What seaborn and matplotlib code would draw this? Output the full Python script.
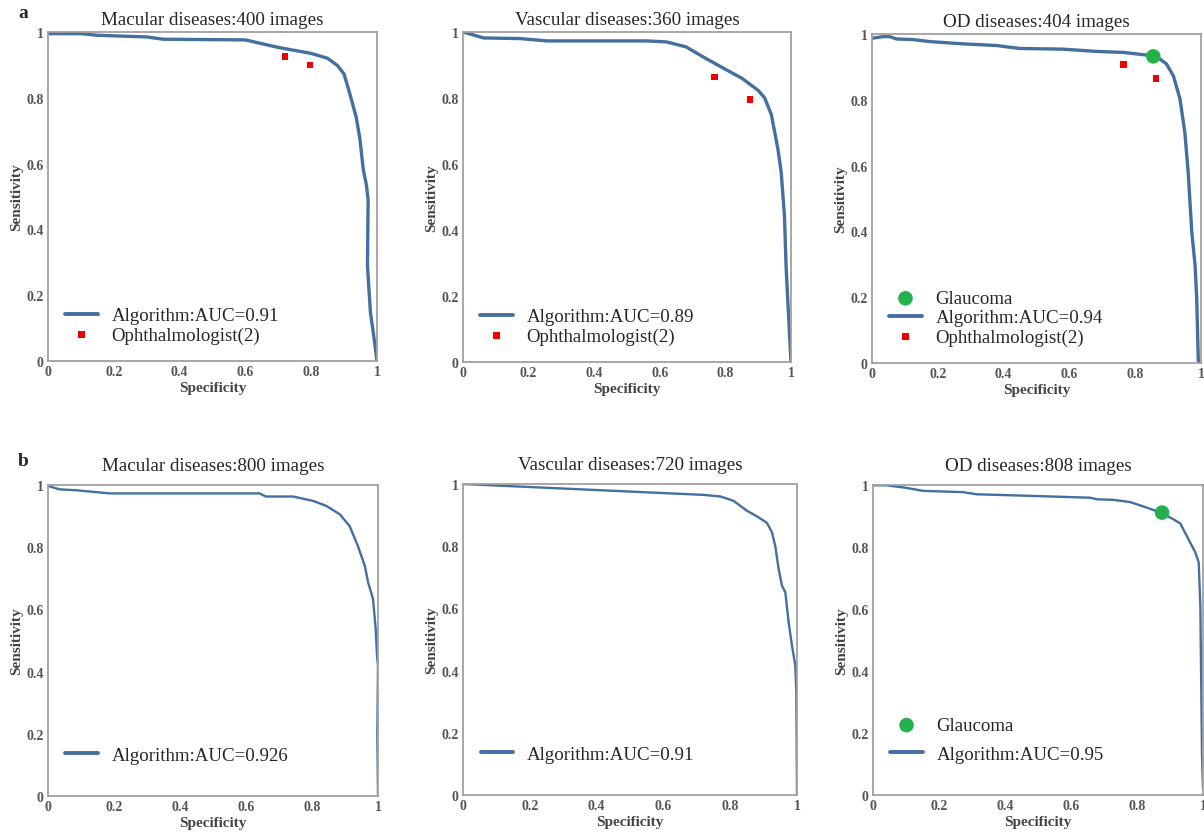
import numpy as np
import pandas as pd
import matplotlib
matplotlib.use("Agg")
import matplotlib.pyplot as plt
import seaborn as sns

# ---- data (specificity, sensitivity) ----
a_mac_spec = [0.0, 0.1, 0.15, 0.3, 0.35, 0.6, 0.7, 0.8, 0.85, 0.88, 0.9, 0.918, 0.937, 0.948, 0.958, 0.968, 0.973, 0.971, 0.98, 0.99, 1.0]
a_mac_sens = [0.995, 0.995, 0.99, 0.985, 0.978, 0.976, 0.953, 0.935, 0.92, 0.898, 0.872, 0.81, 0.74, 0.675, 0.584, 0.533, 0.49, 0.29, 0.148, 0.077, 0.0]

a_vas_spec = [0.0, 0.063, 0.175, 0.256, 0.56, 0.62, 0.68, 0.74, 0.8, 0.85, 0.9, 0.92, 0.94, 0.96, 0.97, 0.98, 0.985, 0.99, 1.0]
a_vas_sens = [1.0, 0.982, 0.98, 0.973, 0.973, 0.97, 0.955, 0.92, 0.887, 0.86, 0.823, 0.8, 0.75, 0.646, 0.576, 0.444, 0.29, 0.19, 0.0]

a_od_spec = [0.0, 0.033, 0.054, 0.074, 0.125, 0.175, 0.277, 0.378, 0.449, 0.58, 0.683, 0.764, 0.835, 0.875, 0.895, 0.916, 0.936, 0.951, 0.961, 0.972, 0.982, 0.987, 0.992]
a_od_sens = [0.987, 0.992, 0.992, 0.985, 0.983, 0.977, 0.970, 0.965, 0.956, 0.954, 0.947, 0.944, 0.936, 0.924, 0.909, 0.873, 0.803, 0.70, 0.58, 0.398, 0.297, 0.195, 0.0]

b_mac_spec = [0.0, 0.035, 0.086, 0.187, 0.641, 0.66, 0.742, 0.803, 0.843, 0.884, 0.914, 0.939, 0.96, 0.97, 0.985, 0.993, 0.997, 1.0, 0.998, 1.0]
b_mac_sens = [0.997, 0.986, 0.983, 0.973, 0.973, 0.963, 0.963, 0.949, 0.933, 0.906, 0.868, 0.804, 0.74, 0.687, 0.633, 0.537, 0.451, 0.42, 0.2, 0.0]

b_vas_spec = [0.0, 0.72, 0.77, 0.81, 0.85, 0.88, 0.91, 0.925, 0.935, 0.945, 0.955, 0.965, 0.975, 0.985, 0.995, 0.998, 1.0]
b_vas_sens = [1.0, 0.965, 0.96, 0.946, 0.914, 0.896, 0.875, 0.845, 0.80, 0.727, 0.673, 0.652, 0.555, 0.48, 0.416, 0.33, 0.0]

b_od_spec = [0.0, 0.04, 0.10, 0.152, 0.273, 0.314, 0.415, 0.567, 0.658, 0.678, 0.729, 0.779, 0.83, 0.876, 0.911, 0.931, 0.956, 0.977, 0.987, 0.992, 0.997, 1.0]
b_od_sens = [0.999, 0.999, 0.991, 0.981, 0.977, 0.970, 0.967, 0.962, 0.959, 0.954, 0.952, 0.945, 0.927, 0.909, 0.889, 0.876, 0.825, 0.782, 0.75, 0.61, 0.127, 0.02]

# ophthalmologist and glaucoma operating points
a_mac_doc_spec = [0.72, 0.796]
a_mac_doc_sens = [0.925, 0.90]
a_vas_doc_spec = [0.766, 0.875]
a_vas_doc_sens = [0.864, 0.796]
a_od_doc_spec = [0.764, 0.863]
a_od_doc_sens = [0.907, 0.865]
a_glau_spec = [0.855]
a_glau_sens = [0.932]
b_glau_spec = [0.876]
b_glau_sens = [0.911]

titles = ["Macular diseases:400 images", "Vascular diseases:360 images", "OD diseases:404 images",
          "Macular diseases:800 images", "Vascular diseases:720 images", "OD diseases:808 images"]
auc_labels = ["Algorithm:AUC=0.91", "Algorithm:AUC=0.89", "Algorithm:AUC=0.94",
              "Algorithm:AUC=0.926", "Algorithm:AUC=0.91", "Algorithm:AUC=0.95"]

sns.set_style("white")
plt.rcParams['font.family'] = ['Liberation Serif', 'DejaVu Serif']

LINE = "#43709f"
RED = "#f00000"
GREEN = "#22b14c"

W, H = 1204, 837
fig = plt.figure(figsize=(W / 100, H / 100), dpi=100)


def px_axes(l, t, r, b):
    return fig.add_axes([l / W, 1 - b / H, (r - l) / W, (b - t) / H])


boxes = [(48, 33, 377, 362), (463, 33, 791, 363), (872, 35, 1201, 364),
         (48, 486, 378, 797), (463, 485, 797, 796), (873, 486, 1203, 796)]
curves = [(a_mac_spec, a_mac_sens), (a_vas_spec, a_vas_sens), (a_od_spec, a_od_sens),
          (b_mac_spec, b_mac_sens), (b_vas_spec, b_vas_sens), (b_od_spec, b_od_sens)]
doctors = [(a_mac_doc_spec, a_mac_doc_sens), (a_vas_doc_spec, a_vas_doc_sens), (a_od_doc_spec, a_od_doc_sens),
           None, None, None]
glaucoma = [None, None, (a_glau_spec, a_glau_sens), None, None, (b_glau_spec, b_glau_sens)]

for i, box in enumerate(boxes):
    ax = px_axes(*box)
    top_row = i < 3
    spec, sens = curves[i]
    df = pd.DataFrame({"spec": spec, "sens": sens})
    sns.lineplot(data=df, x="spec", y="sens", ax=ax, sort=False, estimator=None,
                 color=LINE, lw=2.4 if top_row else 1.7, label=auc_labels[i])
    if doctors[i] is not None:
        ddf = pd.DataFrame({"spec": doctors[i][0], "sens": doctors[i][1]})
        sns.scatterplot(data=ddf, x="spec", y="sens", ax=ax, marker="s", s=22,
                        color=RED, edgecolor="none", label="Ophthalmologist(2)", zorder=3)
    if glaucoma[i] is not None:
        gdf = pd.DataFrame({"spec": glaucoma[i][0], "sens": glaucoma[i][1]})
        sns.scatterplot(data=gdf, x="spec", y="sens", ax=ax, marker="o", s=110,
                        color=GREEN, edgecolor="none", label="Glaucoma", zorder=4)

    ax.set_xlim(0, 1)
    ax.set_ylim(0, 1)
    ticks = [0, 0.2, 0.4, 0.6, 0.8, 1]
    tick_lbls = ["0", "0.2", "0.4", "0.6", "0.8", "1"]
    ax.set_xticks(ticks)
    ax.set_xticklabels(tick_lbls, fontweight="bold")
    ax.set_yticks(ticks)
    ax.set_yticklabels(tick_lbls, fontweight="bold")
    ax.tick_params(length=0, pad=3, labelsize=10, labelcolor="#555555")
    ax.set_xlabel("Specificity", fontsize=11, color="#444444", fontweight="bold", labelpad=2)
    ax.set_ylabel("Sensitivity", fontsize=11, color="#444444", fontweight="bold", labelpad=2)
    for sp in ax.spines.values():
        sp.set_color("#a0a0a0")
        sp.set_linewidth(1.3)
    ax.set_title(titles[i], fontsize=13.7, pad=6 if top_row else 11)

    h, l = ax.get_legend_handles_labels()
    order = ["Glaucoma", auc_labels[i], "Ophthalmologist(2)"]
    pairs = [(h[l.index(o)], o) for o in order if o in l]
    leg = ax.legend([p[0] for p in pairs], [p[1] for p in pairs], loc="lower left",
                    bbox_to_anchor=(0.03, 0.03 if top_row else 0.08), frameon=False,
                    fontsize=13.6, handlelength=1.7, handletextpad=0.75,
                    labelspacing=0.1 if top_row else 0.6, borderaxespad=0)
    for ln in leg.get_lines():
        ln.set_linewidth(2.8)

fig.text(18 / W, 1 - 14 / H, "a", fontsize=14, fontweight="bold", va="center")
fig.text(18 / W, 1 - 461 / H, "b", fontsize=14, fontweight="bold", va="center")

fig.savefig("out.png", dpi=100)
